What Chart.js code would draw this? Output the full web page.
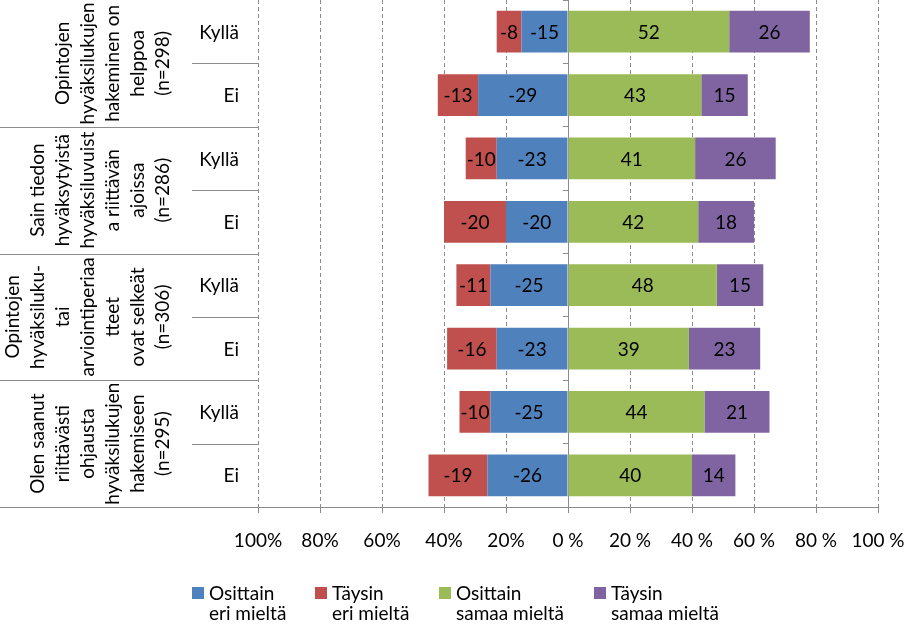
<!DOCTYPE html>
<html><head><meta charset="utf-8">
<script src="https://cdn.jsdelivr.net/npm/chart.js@4/dist/chart.umd.min.js"></script>
<style>html,body{margin:0;padding:0;background:#fff}canvas{display:block}</style>
</head><body>
<canvas id="c" width="907" height="624"></canvas>
<script>
// ---- data ----
const categories = ["Kyllä","Ei","Kyllä","Ei","Kyllä","Ei","Kyllä","Ei"];
const groupLabels = [
  ["Opintojen","hyväksilukujen","hakeminen on","helppoa","(n=298)"],
  ["Sain tiedon","hyväksytyistä","hyväksiluvuist","a riittävän","ajoissa","(n=286)"],
  ["Opintojen","hyväksiluku-","tai","arviointiperiaa","tteet","ovat selkeät","(n=306)"],
  ["Olen saanut","riittävästi","ohjausta","hyväksilukujen","hakemiseen","(n=295)"]
];
const seriesLabels = [["Osittain","eri mieltä"],["Täysin","eri mieltä"],["Osittain","samaa mieltä"],["Täysin","samaa mieltä"]];
const osittainEri   = [-15,-29,-23,-20,-25,-23,-25,-26];
const taysinEri     = [-8,-13,-10,-20,-11,-16,-10,-19];
const osittainSamaa = [52,43,41,42,48,39,44,40];
const taysinSamaa   = [26,15,26,18,15,23,21,14];
const tickLabels = ["100%","80%","60%","40%","20%","0 %","20 %","40 %","60 %","80 %","100 %"];

// ---- styles ----
const FONT = 'Lato, "Open Sans", sans-serif';
const FS = 19;
const GRID = '#8c8c8c';
const colors = ['#4F81BD','#C0504D','#9BBB59','#8064A2'];

const seriesData = [osittainEri, taysinEri, osittainSamaa, taysinSamaa];

const dataLabelPlugin = {
  id:'dataLabels',
  afterDatasetsDraw(chart){
    const ctx = chart.ctx;
    ctx.save();
    ctx.font = FS + 'px ' + FONT;
    ctx.fillStyle = '#000';
    ctx.textAlign = 'center';
    ctx.textBaseline = 'middle';
    chart.data.datasets.forEach((ds, di) => {
      const meta = chart.getDatasetMeta(di);
      meta.data.forEach((el, i) => {
        const cx = (el.x + el.base) / 2;
        ctx.fillText(String(ds.data[i]), cx, el.y + 1);
      });
    });
    ctx.restore();
  }
};

const sideLabelPlugin = {
  id:'sideLabels',
  afterDraw(chart){
    const ctx = chart.ctx;
    const ys = chart.scales.y;
    const area = chart.chartArea;
    const band = ys.getPixelForValue(1) - ys.getPixelForValue(0);
    ctx.save();
    // separators
    ctx.strokeStyle = GRID;
    ctx.lineWidth = 1;
    for (let i = 0; i < categories.length; i++) {
      const yb = Math.round(ys.getPixelForValue(i) + band / 2) + 0.5;
      const x0 = (i % 2 === 0) ? 192 : 0;
      ctx.beginPath();
      ctx.moveTo(x0, yb);
      ctx.lineTo(area.left, yb);
      ctx.stroke();
    }
    // sub labels
    ctx.font = FS + 'px ' + FONT;
    ctx.fillStyle = '#000';
    ctx.textAlign = 'right';
    ctx.textBaseline = 'middle';
    categories.forEach((c, i) => {
      ctx.fillText(c, 239, ys.getPixelForValue(i) + 1);
    });
    // rotated group labels
    ctx.textAlign = 'center';
    groupLabels.forEach((lines, g) => {
      const cy = (ys.getPixelForValue(2 * g) + ys.getPixelForValue(2 * g + 1)) / 2;
      const n = lines.length;
      lines.forEach((t, j) => {
        const x = 163 - (n - 1 - j) * 25;
        ctx.save();
        ctx.translate(x, cy);
        ctx.rotate(-Math.PI / 2);
        ctx.fillText(t, 0, 0);
        ctx.restore();
      });
    });
    // legend
    const lx = [192, 315, 439, 594];
    chart.data.datasets.forEach((ds, di) => {
      ctx.fillStyle = ds.backgroundColor;
      ctx.fillRect(lx[di], 587, 12, 12);
      ctx.fillStyle = '#000';
      ctx.textAlign = 'left';
      ctx.textBaseline = 'alphabetic';
      seriesLabels[di].forEach((t, k) => {
        ctx.fillText(t, lx[di] + 17, 600 + k * 20);
      });
    });
    ctx.restore();
  }
};

new Chart(document.getElementById('c'), {
  type:'bar',
  data:{
    labels: categories,
    datasets: seriesData.map((d, i) => ({
      label: seriesLabels[i].join(' '),
      data: d,
      backgroundColor: colors[i],
      borderWidth: 0,
      barPercentage: 0.66,
      categoryPercentage: 1.0
    }))
  },
  options:{
    indexAxis:'y',
    responsive:false,
    animation:false,
    devicePixelRatio:1,
    layout:{padding:{left:258,right:29,top:0,bottom:0}},
    plugins:{legend:{display:false}, tooltip:{enabled:false}},
    scales:{
      x:{
        type:'linear', min:-100, max:100, stacked:true,
        afterBuildTicks:(s)=>{ s.ticks = tickLabels.map((_, i) => ({value: -100 + i * 20})); },
        ticks:{callback:(v,i)=>tickLabels[i], font:{family:FONT,size:FS}, color:'#000', padding:16, maxRotation:0, autoSkip:false},
        grid:{color:GRID, tickColor:GRID, tickLength:6, lineWidth:1,
              borderDash:(c)=> (c.tick && c.tick.value===0) ? [] : [4,3]},
        border:{display:true, color:GRID, width:1,
              dash:(c)=> (c.tick && c.tick.value===0) ? [] : [4,3]},
        afterFit:(s)=>{ s.height = 117; s.paddingLeft = 0; s.paddingRight = 0; }
      },
      y:{
        type:'category', stacked:true, position:{x:0},
        ticks:{display:false},
        grid:{drawOnChartArea:false, tickLength:5, color:GRID, offset:true},
        border:{display:true, color:GRID, width:1}
      }
    }
  },
  plugins:[dataLabelPlugin, sideLabelPlugin]
});
</script>
</body></html>
